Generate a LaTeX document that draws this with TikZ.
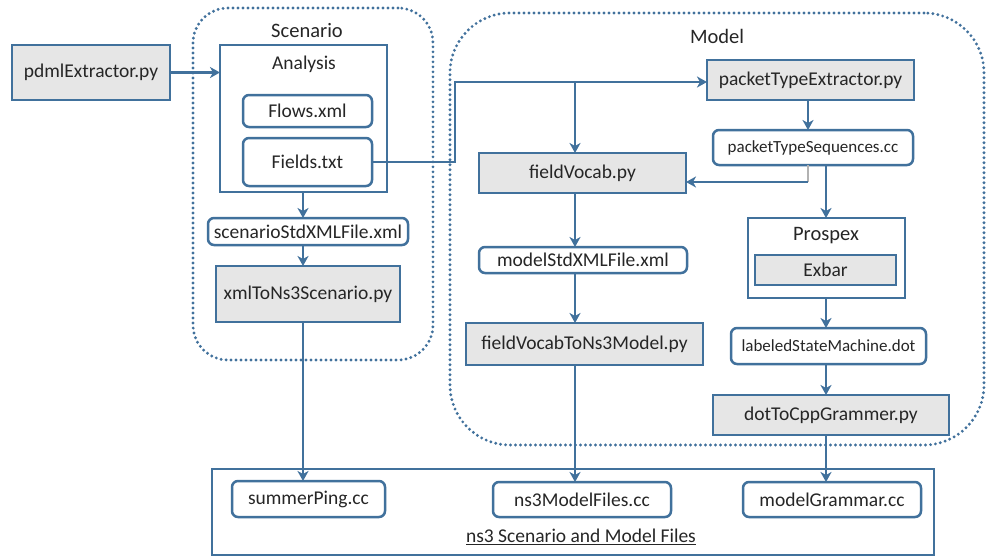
\documentclass[tikz,border=0pt]{standalone}
\usepackage{fontspec}
\setmainfont{Carlito}
\usetikzlibrary{arrows.meta}
\definecolor{edgeblue}{HTML}{41719C}
\definecolor{boxgray}{HTML}{E6E6E6}
\definecolor{ink}{HTML}{262626}
\newcommand\txtL{\fontsize{19.5}{22}\selectfont}
\newcommand\txtS{\fontsize{17}{20}\selectfont}
\newcommand\txtT{\fontsize{20.5}{23}\selectfont}
\tikzset{
  base/.style={inner sep=0pt, outer sep=0pt, text=ink, font=\txtL, align=center},
  graybox/.style={base, draw=edgeblue, fill=boxgray, line width=2.9pt},
  filebox/.style={base, draw=edgeblue, fill=white, line width=2.5pt, rounded corners=6pt},
  framebox/.style={base, draw=edgeblue, fill=white, line width=2.6pt},
  groupbox/.style={base, draw=edgeblue, line width=3.2pt, line cap=round,
                   dash pattern=on 0pt off 5pt},
  title/.style={base, font=\txtT},
  flow/.style={draw=edgeblue, line width=2.6pt,
               -{Stealth[length=10pt,width=11pt,inset=3pt]}},
}
\begin{document}
\begin{tikzpicture}[x=1pt,y=-1pt]
\useasboundingbox (0,0) rectangle (986,557);
\fill[white] (0,0) rectangle (986,557);

% dotted group frames
\node[groupbox, rounded corners=35pt, minimum width=240, minimum height=352] (scen) at (313,184) {};
\node[groupbox, rounded corners=60pt, minimum width=534, minimum height=432] (model) at (717,229) {};
\node[title] (scentitle) at (307,31) {Scenario};
\node[title] (modeltitle) at (717,36) {Model};

% bottom output frame
\node[framebox, minimum width=722, minimum height=86] (out) at (573,512) {};
\node[base] (outtitle) at (581,537) {\underline{ns3 Scenario and Model Files}};

% input extractor
\node[graybox, minimum width=158, minimum height=55] (pdml) at (91,72.5) {pdmlExtractor.py};

% scenario column
\node[framebox, minimum width=167, minimum height=147] (analysis) at (303.5,118.5) {};
\node[base] (analysistitle) at (304,64) {Analysis};
\node[filebox, minimum width=129, minimum height=32] (flows) at (307.5,111) {Flows.xml};
\node[filebox, minimum width=129, minimum height=48] (fields) at (307.5,162) {Fields.txt};
\node[filebox, minimum width=200, minimum height=27] (scenstd) at (308,231.5) {scenarioStdXMLFile.xml};
\node[graybox, minimum width=184, minimum height=56] (xmlns3) at (308,294) {xmlToNs3Scenario.py};

% model: field vocabulary column
\node[graybox, minimum width=207, minimum height=40] (fv) at (582.5,173) {fieldVocab.py};
\node[filebox, minimum width=208, minimum height=26] (mstd) at (583,260) {modelStdXMLFile.xml};
\node[graybox, minimum width=237, minimum height=42] (fvns3) at (584.5,344) {fieldVocabToNs3Model.py};

% model: grammar column
\node[graybox, minimum width=207, minimum height=40] (pte) at (810.5,80) {packetTypeExtractor.py};
\node[filebox, minimum width=200, minimum height=35, font=\txtS] (pts) at (813,147.5) {packetTypeSequences.cc};
\node[framebox, minimum width=157, minimum height=80] (prospex) at (826.5,258) {};
\node[title] (prospextitle) at (826,236) {Prospex};
\node[graybox, minimum width=141, minimum height=30] (exbar) at (825.5,270) {Exbar};
\node[filebox, minimum width=195, minimum height=36, font=\txtS] (lsm) at (828.5,346) {labeledStateMachine.dot};
\node[graybox, minimum width=236, minimum height=40] (dtc) at (831,415) {dotToCppGrammer.py};

% generated files
\node[filebox, minimum width=153, minimum height=36] (summer) at (308.5,499) {summerPing.cc};
\node[filebox, minimum width=178, minimum height=35] (ns3mf) at (582,499.5) {ns3ModelFiles.cc};
\node[filebox, minimum width=178, minimum height=35] (mg) at (832,499.5) {modelGrammar.cc};

% routing helpers
\coordinate (colS) at (303,0);
\coordinate (colM) at (575,0);
\coordinate (colG) at (826,0);
\coordinate (jog) at (455,82);
\coordinate (ret) at (808,182);

% scenario flow
\draw[flow] (pdml.east) -- (pdml.east -| analysis.west);
\draw[flow] (analysis.south -| colS) -- (scenstd.north -| colS);
\draw[flow] (scenstd.south -| colS) -- (xmlns3.north -| colS);
\draw[flow] (xmlns3.south -| colS) -- (summer.north -| colS);

% fields feed the model
\draw[flow] (fields.east) -| (jog) -- (jog -| pte.west);
\draw[flow] (jog -| colM) -- (fv.north -| colM);
\draw[flow] (fv.south -| colM) -- (mstd.north -| colM);
\draw[flow] (mstd.south -| colM) -- (fvns3.north -| colM);
\draw[flow] (fvns3.south -| colM) -- (ns3mf.north -| colM);

% packet type sequences
\draw[flow] (pte.south -| ret) -- (pts.north -| ret);
\draw[gray!60, line width=1.3pt] (pts.south -| ret) -- (ret);
\draw[flow] (ret) -- (ret -| fv.east);
\draw[flow] (pts.south -| colG) -- (prospex.north -| colG);
\draw[flow] (prospex.south -| colG) -- (lsm.north -| colG);
\draw[flow] (lsm.south -| colG) -- (dtc.north -| colG);
\draw[flow] (dtc.south -| colG) -- (mg.north -| colG);
\end{tikzpicture}
\end{document}
